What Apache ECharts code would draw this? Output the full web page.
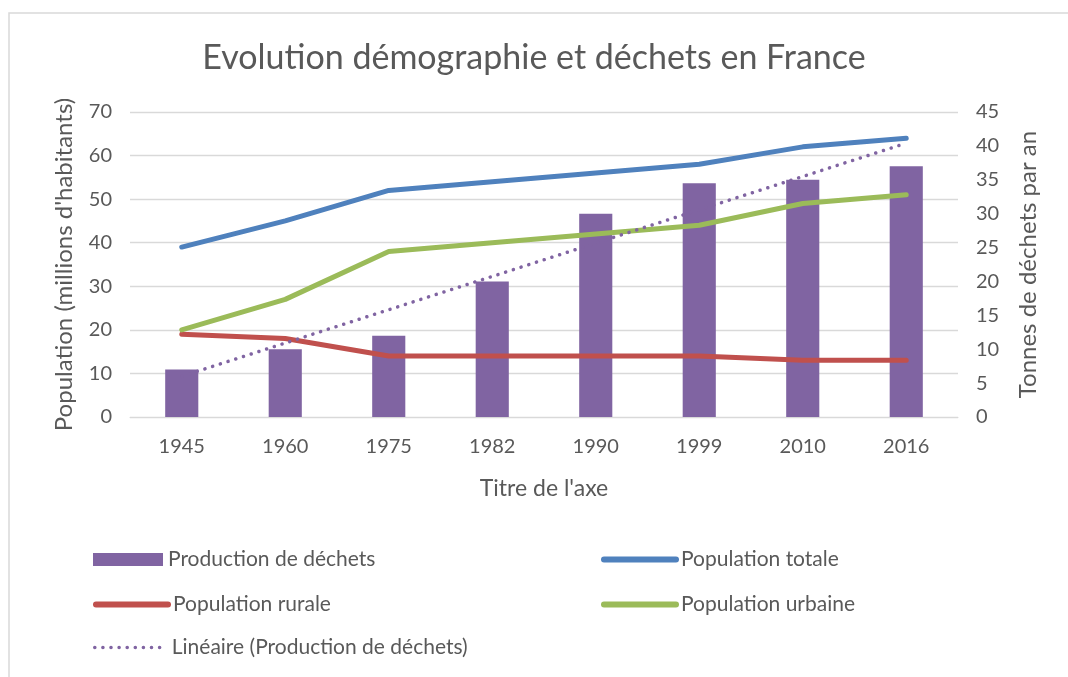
<!DOCTYPE html>
<html>
<head>
<meta charset="utf-8">
<script src="https://cdn.jsdelivr.net/npm/echarts@6/dist/echarts.min.js"></script>
<style>
    html, body { margin: 0; padding: 0; background: #fff; }
    #chart { width: 1068px; height: 677px; }
</style>
</head>
<body>
<div id="chart"></div>
<script>
// données
var years = ['1945', '1960', '1975', '1982', '1990', '1999', '2010', '2016'];
var dechets = [7, 10, 12, 20, 30, 34.5, 35, 37];          // axe droit
var popTotale = [39, 45, 52, 54, 56, 58, 62, 64];
var popRurale = [19, 18, 14, 14, 14, 14, 13, 13];
var popUrbaine = [20, 27, 38, 40, 42, 44, 49, 51];
// courbe de tendance : extrémités lues
var tendance = [['1945', 6.0], ['2016', 40.4]];
var leftTicks = { min: 0, max: 70, step: 10 };
var rightTicks = { min: 0, max: 45, step: 5 };

var txt = '#595959';
var font = 'Lato, "Open Sans", sans-serif';

var chart = echarts.init(document.getElementById('chart'));

function legendItem(name, left, top, icon, w, h, line) {
    var lg = {
        data: [name],
        left: left,
        top: top,
        itemWidth: w,
        itemHeight: h,
        itemGap: 0,
        textStyle: { color: txt, fontSize: 21, fontFamily: font, padding: [0, 0, 0, 0] }
    };
    if (icon) lg.icon = icon;
    if (line) {
        lg.itemStyle = { opacity: 0 };
        lg.lineStyle = line;
    }
    return lg;
}

chart.setOption({
    animation: false,
    textStyle: { fontFamily: font },
    graphic: [{
        type: 'polyline',
        shape: { points: [[9, 690], [9, 13], [1080, 13]] },
        style: { stroke: '#d9d9d9', lineWidth: 1.5, fill: null }
    }],
    title: {
        text: 'Evolution démographie et déchets en France',
        left: 'center',
        top: 36,
        textStyle: { color: txt, fontSize: 34, fontWeight: 'normal', fontFamily: font }
    },
    legend: [
        legendItem('Production de déchets', 88, 544, 'rect', 70, 13),
        legendItem('Population totale', 596, 544, null, 72, 14, { width: 6, cap: 'round' }),
        legendItem('Population rurale', 88, 589, null, 72, 14, { width: 6, cap: 'round' }),
        legendItem('Population urbaine', 596, 589, null, 72, 14, { width: 6, cap: 'round' }),
        legendItem('Linéaire (Production de déchets)', 88, 632, null, 72, 14, { width: 3.5, type: [0.1, 8], cap: 'round' })
    ],
    grid: { left: 130, right: 110, top: 112, bottom: 260 },
    xAxis: {
        type: 'category',
        data: years,
        name: "Titre de l'axe",
        nameLocation: 'middle',
        nameGap: 60,
        nameTextStyle: { color: txt, fontSize: 23, fontFamily: font },
        axisLine: { lineStyle: { color: '#d9d9d9' } },
        axisTick: { show: false },
        axisLabel: { color: txt, fontSize: 20, margin: 20, fontFamily: font }
    },
    yAxis: [{
        type: 'value',
        min: leftTicks.min,
        max: leftTicks.max,
        interval: leftTicks.step,
        name: "Population (millions d'habitants)",
        nameLocation: 'middle',
        nameGap: 54,
        nameTextStyle: { color: txt, fontSize: 24, fontFamily: font },
        axisLabel: { color: txt, fontSize: 20, margin: 18, fontFamily: font },
        splitLine: { lineStyle: { color: '#d9d9d9', width: 1.3 } }
    }, {
        type: 'value',
        min: rightTicks.min,
        max: rightTicks.max,
        interval: rightTicks.step,
        name: 'Tonnes de déchets par an',
        nameLocation: 'middle',
        nameGap: 58,
        nameRotate: 90,
        nameTextStyle: { color: txt, fontSize: 24, fontFamily: font },
        axisLabel: { color: txt, fontSize: 20, margin: 18, fontFamily: font },
        splitLine: { show: false }
    }],
    series: [{
        name: 'Production de déchets',
        type: 'bar',
        yAxisIndex: 1,
        data: dechets,
        barWidth: '32%',
        itemStyle: { color: '#8064A2' },
        z: 1
    }, {
        name: 'Population totale',
        type: 'line',
        data: popTotale,
        symbol: 'none',
        lineStyle: { color: '#4F81BD', width: 5, cap: 'round' },
        itemStyle: { color: '#4F81BD' }
    }, {
        name: 'Population rurale',
        type: 'line',
        data: popRurale,
        symbol: 'none',
        lineStyle: { color: '#C0504D', width: 5, cap: 'round' },
        itemStyle: { color: '#C0504D' }
    }, {
        name: 'Population urbaine',
        type: 'line',
        data: popUrbaine,
        symbol: 'none',
        lineStyle: { color: '#9BBB59', width: 5, cap: 'round' },
        itemStyle: { color: '#9BBB59' }
    }, {
        name: 'Linéaire (Production de déchets)',
        type: 'line',
        yAxisIndex: 1,
        data: tendance,
        symbol: 'none',
        lineStyle: { color: '#8064A2', width: 3.5, type: [0.1, 8], cap: 'round' },
        itemStyle: { color: '#8064A2' },
        z: 3
    }]
});
</script>
</body>
</html>
